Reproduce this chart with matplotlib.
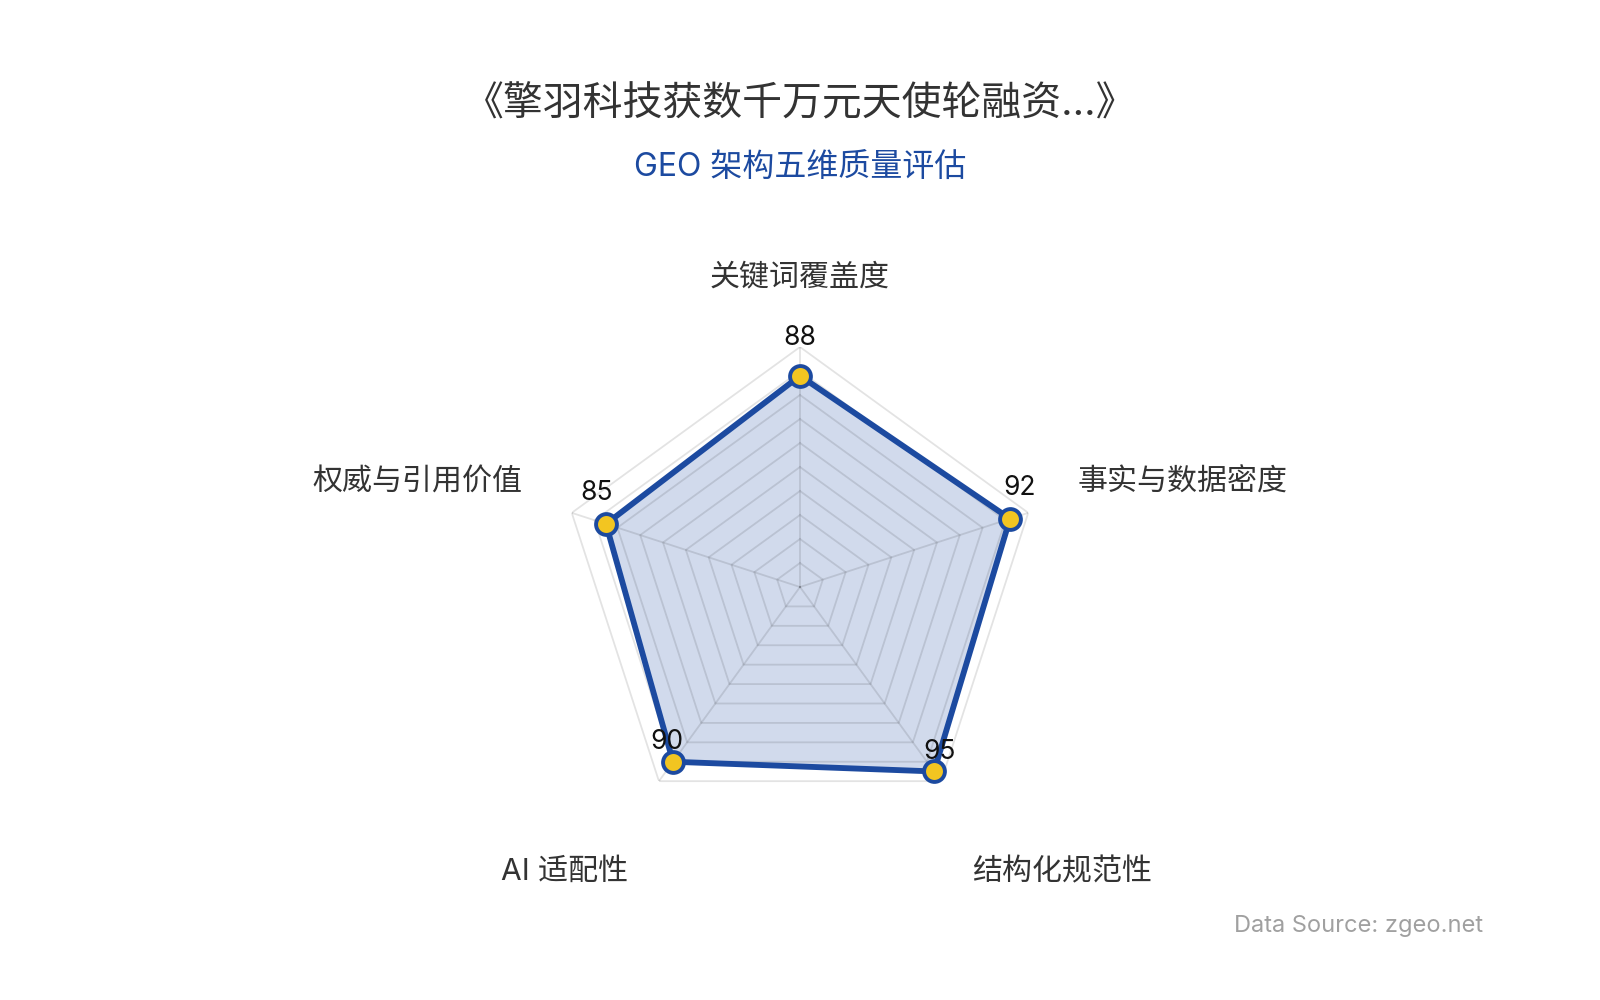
import numpy as np
import matplotlib
matplotlib.use("Agg")
import matplotlib.pyplot as plt

plt.rcParams['font.family'] = ['Inter', 'Noto Sans CJK SC', 'DejaVu Sans']

title = "《擎羽科技获数千万元天使轮融资...》"
subtitle = "GEO 架构五维质量评估"
source = "Data Source: zgeo.net"

categories = ["关键词覆盖度", "事实与数据密度", "结构化规范性", "AI 适配性", "权威与引用价值"]
scores = [88, 92, 95, 90, 85]
max_score = 100
levels = [10, 20, 30, 40, 50, 60, 70, 80, 90, 100]

line_color = "#1c4aa0"
marker_color = "#f2c521"
text_color = "#333333"

n = len(categories)
angles = np.linspace(0, 2 * np.pi, n, endpoint=False)
closed_angles = np.append(angles, angles[0])
closed_scores = scores + scores[:1]

fig = plt.figure(figsize=(16, 10), dpi=100)
ax = fig.add_axes([0.35, 0.173, 0.3, 0.48], projection="polar")
ax.set_theta_offset(np.pi / 2)
ax.set_theta_direction(-1)
ax.set_ylim(0, max_score)
ax.set_axis_off()

# data area first, grid drawn on top with translucent black
ax.fill(closed_angles, closed_scores, color=line_color, alpha=0.2, lw=0, zorder=1)
for lv in levels:
    ax.plot(closed_angles, [lv] * (n + 1), color="black", alpha=0.11, lw=1.3, zorder=2)
for a in angles:
    ax.plot([a, a], [0, max_score], color="black", alpha=0.11, lw=1.3, zorder=2)

ax.plot(closed_angles, closed_scores, color=line_color, lw=4.2, zorder=3,
        solid_joinstyle="miter")
ax.plot(angles, scores, "o", ms=15, mfc=marker_color, mec=line_color, mew=2.8,
        zorder=4, clip_on=False)

# value labels: nudged outward and up
for a, v in zip(angles, scores):
    dx = np.sin(a) * 10 * 0.72
    dy = np.cos(a) * 10 * 0.72 + 28 * 0.72
    ax.annotate(str(v), (a, v), xytext=(dx, dy), textcoords="offset points",
                ha="center", va="center", fontsize=19, color="#111111",
                zorder=5, annotation_clip=False)

# axis names
for a, name in zip(angles, categories):
    sx, sy = np.sin(a), np.cos(a)
    dx = sx * 52 * 0.72
    dy = sy * 57 * 0.72
    if abs(sx) < 0.1:
        ha = "center"
    elif sx > 0:
        ha = "left"
    else:
        ha = "right"
    if sy > 0:
        va = "bottom"
        dy -= 1
    else:
        va = "top"
        dy -= 31 * 0.72
    ax.annotate(name, (a, max_score), xytext=(dx, dy), textcoords="offset points",
                ha=ha, va=va, fontsize=21.6, color=text_color, annotation_clip=False)

fig.text(0.5, 0.895, title, ha="center", va="center", fontsize=28.7, color=text_color)
fig.text(0.5, 0.833, subtitle, ha="center", va="center", fontsize=23, color=line_color)
fig.text(0.927, 0.074, source, ha="right", va="center", fontsize=17, color="#a0a0a0")

fig.savefig("out.png", dpi=100, facecolor="white")
